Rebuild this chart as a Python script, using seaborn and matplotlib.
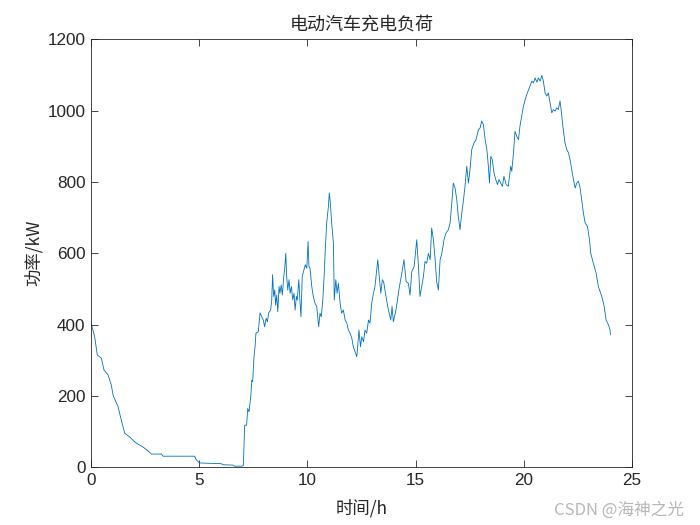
import numpy as np
import pandas as pd
import matplotlib
matplotlib.use("Agg")
import matplotlib.pyplot as plt
import seaborn as sns

# time (h)
hours = [0.0, 0.17, 0.29, 0.48, 0.60, 0.79, 0.94, 1.02, 1.25, 1.40, 1.56, 1.79, 2.02, 2.17, 2.40, 2.63, 2.79,
         3.25, 3.33, 4.79, 4.87, 5.02, 6.02, 6.10, 6.56, 6.64, 6.98, 7.04, 7.10, 7.19, 7.24, 7.30, 7.38, 7.43,
         7.47, 7.53, 7.58, 7.62, 7.73, 7.81, 7.89, 7.96, 8.02, 8.09, 8.15, 8.21, 8.30, 8.35, 8.39, 8.44, 8.49,
         8.53, 8.58, 8.63, 8.69, 8.73, 8.79, 8.84, 8.90, 8.95, 9.00, 9.04, 9.09, 9.15, 9.20, 9.26, 9.32, 9.38,
         9.43, 9.49, 9.53, 9.60, 9.66, 9.70, 9.76, 9.84, 9.90, 9.97, 10.03, 10.07, 10.12, 10.20, 10.27, 10.35,
         10.43, 10.52, 10.58, 10.64, 10.71, 10.77, 10.83, 10.89, 10.97, 11.01, 11.06, 11.12, 11.20, 11.24,
         11.31, 11.37, 11.43, 11.51, 11.58, 11.66, 11.74, 11.82, 11.89, 11.97, 12.05, 12.12, 12.20, 12.28,
         12.32, 12.38, 12.45, 12.51, 12.59, 12.66, 12.74, 12.82, 12.89, 12.97, 13.05, 13.12, 13.20, 13.25,
         13.31, 13.39, 13.46, 13.52, 13.63, 13.74, 13.85, 13.91, 13.97, 14.09, 14.25, 14.36, 14.46, 14.56,
         14.66, 14.74, 14.82, 14.93, 15.05, 15.13, 15.20, 15.28, 15.36, 15.43, 15.51, 15.59, 15.67, 15.74,
         15.82, 15.90, 15.97, 16.05, 16.13, 16.21, 16.31, 16.40, 16.51, 16.59, 16.67, 16.74, 16.82, 16.90,
         16.97, 17.05, 17.13, 17.21, 17.28, 17.36, 17.44, 17.51, 17.59, 17.70, 17.79, 17.90, 17.98, 18.05,
         18.13, 18.21, 18.29, 18.36, 18.41, 18.47, 18.54, 18.62, 18.70, 18.78, 18.85, 18.93, 19.01, 19.08,
         19.18, 19.28, 19.39, 19.44, 19.52, 19.59, 19.67, 19.75, 19.82, 19.90, 19.98, 20.06, 20.16, 20.25,
         20.37, 20.44, 20.52, 20.60, 20.67, 20.75, 20.83, 20.90, 20.98, 21.06, 21.13, 21.21, 21.29, 21.36,
         21.44, 21.52, 21.59, 21.67, 21.72, 21.80, 21.90, 21.98, 22.06, 22.13, 22.21, 22.29, 22.37, 22.44,
         22.52, 22.60, 22.67, 22.75, 22.83, 22.94, 23.03, 23.09, 23.21, 23.34, 23.44, 23.60, 23.71, 23.80,
         23.91, 23.98, 24.0]

# power (kW)
power = [405, 366, 315, 306, 273, 259, 230, 202, 170, 132, 95, 85, 71, 65, 57, 46, 37,
         37, 31, 31, 20, 12, 10, 7, 6, 3, 3, 5, 118, 118, 165, 155, 198, 244,
         240, 310, 338, 376, 380, 433, 422, 413, 394, 418, 408, 433, 441, 469, 540, 479, 497,
         455, 483, 436, 507, 488, 511, 483, 530, 558, 600, 535, 497, 526, 488, 507, 469, 488,
         441, 479, 469, 526, 460, 422, 535, 554, 568, 558, 633, 563, 558, 507, 479, 460,
         451, 394, 432, 422, 469, 535, 619, 685, 732, 769, 740, 685, 628, 469,
         526, 488, 516, 460, 432, 441, 413, 404, 385, 376, 362, 338, 324, 310,
         338, 385, 338, 366, 352, 385, 376, 413, 404, 460, 488, 507, 554, 582,
         540, 488, 526, 520, 479, 441, 413, 451, 408, 441, 507, 544, 582, 521,
         516, 483, 549, 563, 638, 563, 479, 507, 535, 577, 572, 600, 582, 671,
         638, 582, 521, 497, 582, 600, 638, 657, 666, 685, 741, 797, 783, 750,
         703, 666, 713, 750, 788, 844, 797, 835, 891, 910, 919, 947, 952, 971,
         961, 919, 891, 844, 797, 872, 863, 825, 807, 793, 807, 797, 788, 816,
         793, 788, 844, 830, 882, 942, 928, 919, 957, 985, 1013, 1031, 1050, 1064,
         1083, 1078, 1092, 1080, 1092, 1083, 1099, 1083, 1050, 1041, 1050, 1022, 994, 1003,
         999, 1008, 1003, 1027, 1003, 957, 910, 891, 882, 863, 835, 807, 783, 797,
         802, 783, 750, 713, 685, 675, 638, 600, 572, 544, 507, 479, 451, 413,
         399, 385, 371]

x_ticks = [0, 5, 10, 15, 20, 25]
y_ticks = [0, 200, 400, 600, 800, 1000, 1200]

title_text = "电动汽车充电负荷"
x_label = "时间/h"
y_label = "功率/kW"
watermark = "CSDN @海神之光"

sns.set_theme(style="white")
plt.rcParams['font.family'] = ['Liberation Sans', 'Noto Sans CJK SC', 'DejaVu Sans']
cjk = ['Noto Sans CJK SC', 'DejaVu Sans']

df = pd.DataFrame({"t": hours, "p": power})

fig = plt.figure(figsize=(7, 5.25), dpi=100)
ax = fig.add_axes([0.13, 0.11, 0.773, 0.815])
sns.lineplot(data=df, x="t", y="p", ax=ax, color="#0072BD", linewidth=0.6,
             estimator=None, sort=False)

ax.set_xlim(0, 25)
ax.set_ylim(0, 1200)
ax.set_xticks(x_ticks)
ax.set_yticks(y_ticks)
ax.set_xticklabels([str(v) for v in x_ticks], fontsize=12.3, color="#262626")
ax.set_yticklabels([str(v) for v in y_ticks], fontsize=12.3, color="#262626")
ax.tick_params(direction="in", length=5, width=0.6, color="#262626",
               top=True, right=True, bottom=True, left=True, pad=4)
for s in ax.spines.values():
    s.set_color("#262626")
    s.set_linewidth(0.6)
    s.set_visible(True)

ax.set_title(title_text, family=cjk, fontsize=13, color="#262626", pad=7)
ax.set_xlabel(x_label, family=cjk, fontsize=12.5, color="#262626", labelpad=8)
ax.set_ylabel(y_label, family=cjk, fontsize=12.5, color="#262626", labelpad=3)

fig.text(0.977, 0.012, watermark, family=cjk, fontsize=12, color="#b8b8b8",
         ha="right", va="bottom")

fig.savefig("out.png", dpi=100, facecolor="white")
